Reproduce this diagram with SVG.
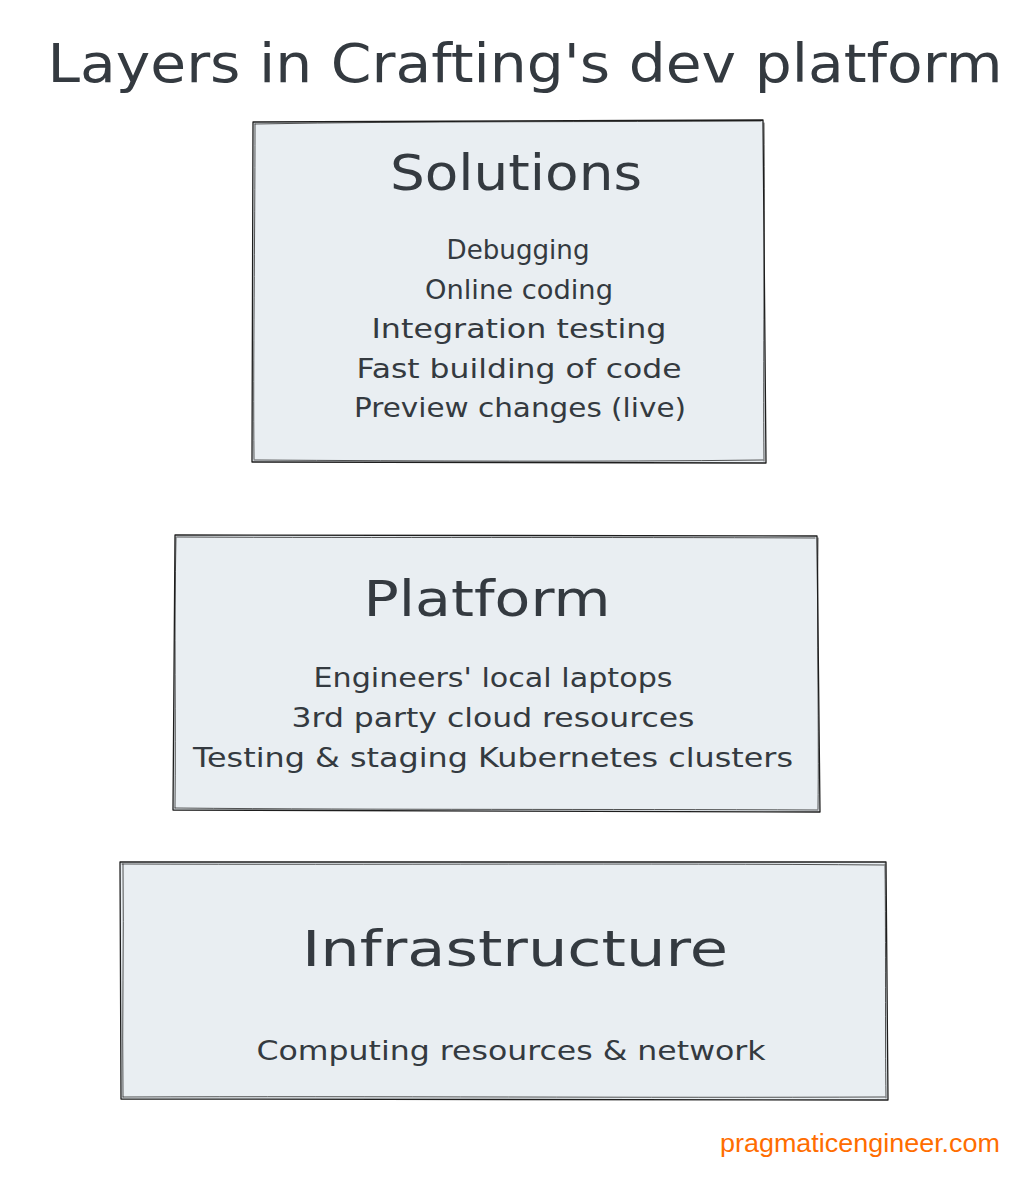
<svg xmlns="http://www.w3.org/2000/svg" width="1036" height="1180" viewBox="0 0 1036 1180">
<style>
.bg{fill:#ffffff}
.box{fill:#e9eef2;stroke:none}
.edge{fill:none;stroke:#1e1e1e;stroke-width:1.3;stroke-linecap:round;stroke-linejoin:round}
.edge2{fill:none;stroke:#1e1e1e;stroke-width:1;stroke-linecap:round;opacity:0.75}
text{font-family:"DejaVu Sans","Noto Sans",sans-serif;fill:#343a40;text-anchor:middle}
.title{font-size:54px}
.head{font-size:50px}
.item{font-size:27px}
.credit{font-family:"Liberation Sans",Arial,sans-serif;font-size:26px;fill:#ff6d00}
</style>
<rect class="bg" x="0" y="0" width="1036" height="1180"/>
<text class="title" x="525" y="82" textLength="955" lengthAdjust="spacingAndGlyphs">Layers in Crafting's dev platform</text>

<g id="solutions">
<path class="box" d="M253,122 L763,120 L766,463 L252,462 Z"/>
<path class="edge" d="M253,122 L763,120 L766,463 L252,462 Z"/>
<path class="edge2" d="M255,124 C420,121 600,122 761,121 M764,123 C765,240 763,360 764,461 M763,460 C600,462 420,461 254,460 M254,459 C253,360 255,240 255,124"/>
<text class="head" x="516" y="190" textLength="252" lengthAdjust="spacingAndGlyphs">Solutions</text>
<text class="item" x="518" y="259" textLength="143" lengthAdjust="spacingAndGlyphs">Debugging</text>
<text class="item" x="519" y="299" textLength="188" lengthAdjust="spacingAndGlyphs">Online coding</text>
<text class="item" x="519" y="338" textLength="295" lengthAdjust="spacingAndGlyphs">Integration testing</text>
<text class="item" x="519" y="378" textLength="325" lengthAdjust="spacingAndGlyphs">Fast building of code</text>
<text class="item" x="520" y="417" textLength="332" lengthAdjust="spacingAndGlyphs">Preview changes (live)</text>
</g>

<g id="platform">
<path class="box" d="M175,535 L817,536 L820,812 L173,810 Z"/>
<path class="edge" d="M175,535 L817,536 L820,812 L173,810 Z"/>
<path class="edge2" d="M177,537 C380,538 600,537 815,538 M818,538 C817,640 819,730 818,809 M818,810 C600,809 380,810 175,808 M175,808 C176,720 174,630 176,537"/>
<text class="head" x="487" y="616" textLength="247" lengthAdjust="spacingAndGlyphs">Platform</text>
<text class="item" x="493" y="687" textLength="359" lengthAdjust="spacingAndGlyphs">Engineers' local laptops</text>
<text class="item" x="493" y="727" textLength="403" lengthAdjust="spacingAndGlyphs">3rd party cloud resources</text>
<text class="item" x="493" y="767" textLength="600" lengthAdjust="spacingAndGlyphs">Testing &amp; staging Kubernetes clusters</text>
</g>

<g id="infrastructure">
<path class="box" d="M120,862 L886,862 L888,1100 L121,1099 Z"/>
<path class="edge" d="M120,862 L886,862 L888,1100 L121,1099 Z"/>
<path class="edge2" d="M122,864 C380,865 640,863 884,865 M885,864 C886,950 885,1030 886,1098 M885,1097 C640,1098 380,1096 123,1097 M123,1097 C122,1020 124,940 123,864"/>
<text class="head" x="515" y="966" textLength="426" lengthAdjust="spacingAndGlyphs">Infrastructure</text>
<text class="item" x="511" y="1060" textLength="509" lengthAdjust="spacingAndGlyphs">Computing resources &amp; network</text>
</g>

<g id="connectors"></g>

<text class="credit" x="860" y="1152" textLength="280" lengthAdjust="spacingAndGlyphs">pragmaticengineer.com</text>
</svg>
